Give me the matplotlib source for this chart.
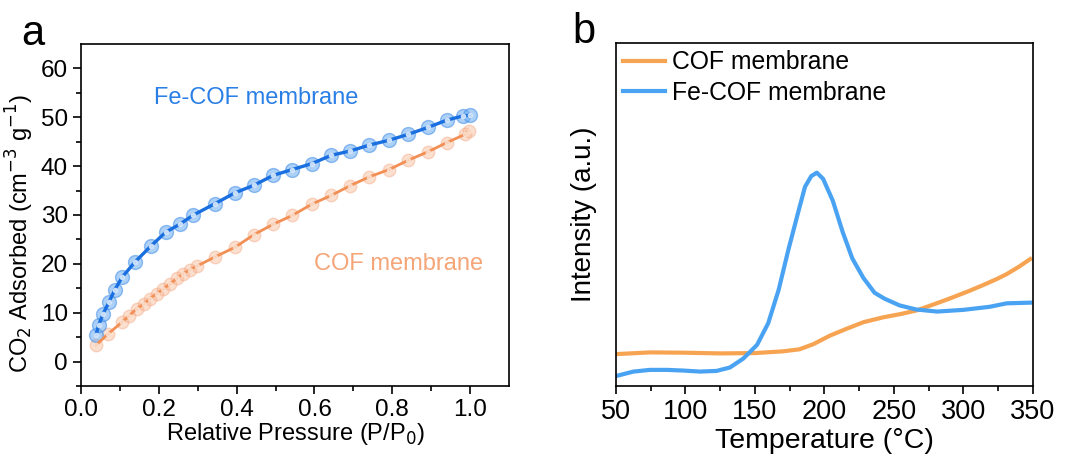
import numpy as np
import matplotlib.pyplot as plt

plt.rcParams['font.family'] = ['Liberation Sans', 'DejaVu Sans']

# ---- panel a: CO2 adsorption ----
fe_p = [0.039, 0.045, 0.057, 0.072, 0.087, 0.106, 0.139, 0.179, 0.218, 0.254, 0.287,
        0.344, 0.395, 0.445, 0.494, 0.543, 0.593, 0.643, 0.692, 0.741, 0.792, 0.841,
        0.891, 0.940, 0.983, 1.0]
fe_q = [5.5, 7.4, 9.8, 12.2, 14.7, 17.3, 20.4, 23.6, 26.5, 28.1, 29.9,
        32.3, 34.5, 36.1, 38.1, 39.3, 40.5, 42.2, 43.1, 44.3, 45.3, 46.5,
        47.9, 49.4, 50.3, 50.4]
cof_p = [0.038, 0.070, 0.106, 0.124, 0.143, 0.162, 0.177, 0.195, 0.212, 0.229, 0.246,
         0.263, 0.280, 0.297, 0.344, 0.396, 0.445, 0.494, 0.543, 0.593, 0.643, 0.692,
         0.741, 0.792, 0.841, 0.891, 0.940, 0.987, 0.996]
cof_q = [3.3, 5.7, 8.1, 9.4, 10.8, 11.8, 12.9, 13.9, 14.9, 15.9, 17.0,
         18.0, 18.8, 19.5, 21.4, 23.4, 26.0, 28.1, 29.9, 32.2, 34.0, 36.0,
         37.8, 39.3, 41.2, 42.9, 44.8, 46.5, 47.2]

# ---- panel b: CO2-TPD ----
cof_t = [50, 75, 100, 125, 150, 170, 182, 192, 204, 216, 228, 242, 255, 266, 280,
         292, 304, 314, 324, 331, 340, 348]
cof_i = [0.093, 0.098, 0.097, 0.095, 0.096, 0.101, 0.107, 0.122, 0.147, 0.167, 0.186,
         0.200, 0.210, 0.220, 0.240, 0.258, 0.277, 0.294, 0.312, 0.326, 0.348, 0.370]
fe_t = [50, 62.5, 74.5, 86.5, 98.5, 110.4, 122.4, 132, 141.6, 151.5, 159.5, 167, 174,
        181.5, 186, 190.5, 194.5, 199, 206, 213, 220, 228, 236, 243, 254, 266, 281,
        300, 319, 331, 348]
fe_i = [0.029, 0.042, 0.047, 0.047, 0.045, 0.042, 0.044, 0.054, 0.080, 0.120, 0.183,
        0.280, 0.397, 0.513, 0.581, 0.612, 0.622, 0.604, 0.540, 0.450, 0.372, 0.315,
        0.272, 0.255, 0.235, 0.223, 0.217, 0.222, 0.231, 0.241, 0.243]

fig = plt.figure(figsize=(10.7, 4.61), dpi=100)
ax1 = fig.add_axes([0.0757, 0.1627, 0.4, 0.742])
ax2 = fig.add_axes([0.5757, 0.1627, 0.3897, 0.744])

# panel a
ax1.plot(cof_p, cof_q, 'o', ms=9, mfc='#F7B896', mec='#F5AA85', alpha=0.45, zorder=2)
ax1.plot(cof_p, cof_q, color='#F28F55', lw=2, zorder=3)
ax1.plot(cof_p, cof_q, 'o', ms=3, color='#FBE0CF', alpha=0.8, zorder=4)
ax1.plot(fe_p, fe_q, 'o', ms=10, mfc='#6AAAF0', mec='#3F8DEA', alpha=0.55, zorder=2)
ax1.plot(fe_p, fe_q, color='#1A6FE0', lw=2.4, zorder=3)
ax1.plot(fe_p, fe_q, 'o', ms=3, color='#D2E5FB', alpha=0.9, zorder=4)

ax1.text(0.188, 53.9, 'Fe-COF membrane', color='#2A7FE6', fontsize=17, va='center')
ax1.text(0.60, 20.0, 'COF membrane', color='#F5A577', fontsize=17, va='center')

ax1.set_xlim(0, 1.1)
ax1.set_ylim(-5, 65)
ax1.set_xticks([0.0, 0.2, 0.4, 0.6, 0.8, 1.0])
ax1.set_xticks(np.arange(0.1, 1.1, 0.2), minor=True)
ax1.set_yticks([0, 10, 20, 30, 40, 50, 60])
ax1.set_yticks(np.arange(-5, 65, 10), minor=True)
ax1.tick_params(which='major', direction='out', length=6, width=1.2, labelsize=17.5)
ax1.tick_params(which='minor', direction='out', length=3.5, width=1.2)
ax1.set_xlabel('Relative Pressure (P/P$_0$)', fontsize=17, labelpad=0)
ax1.set_ylabel('CO$_2$ Adsorbed (cm$^{-3}$ g$^{-1}$)', fontsize=17)
ax1.yaxis.set_label_coords(-0.105, 0.445)

# panel b
ax2.plot(cof_t, cof_i, color='#F7A452', lw=3, label='COF membrane')
ax2.plot(fe_t, fe_i, color='#4AA3F2', lw=3, label='Fe-COF membrane')
ax2.set_xlim(50, 350)
ax2.set_ylim(0, 1)
ax2.set_xticks([50, 100, 150, 200, 250, 300, 350])
ax2.set_xticks(np.arange(75, 350, 50), minor=True)
ax2.set_yticks([])
ax2.tick_params(which='major', direction='out', length=6, width=1.2, labelsize=19.5)
ax2.tick_params(which='minor', direction='out', length=3.5, width=1.2)
ax2.set_xlabel('Temperature (\u00b0C)', fontsize=20.5, labelpad=2)
ax2.set_ylabel('Intensity (a.u.)', fontsize=20, labelpad=14)
ax2.legend(loc='upper left', frameon=False, fontsize=17.8, handlelength=1.7,
           handletextpad=0.25, labelspacing=0.25, borderaxespad=0.2, borderpad=0.1)

for ax in (ax1, ax2):
    for s in ax.spines.values():
        s.set_linewidth(1.2)

fig.text(0.031, 0.926, 'a', fontsize=30, ha='center', va='center')
fig.text(0.546, 0.93, 'b', fontsize=30, ha='center', va='center')

fig.savefig('out.png', dpi=100)
